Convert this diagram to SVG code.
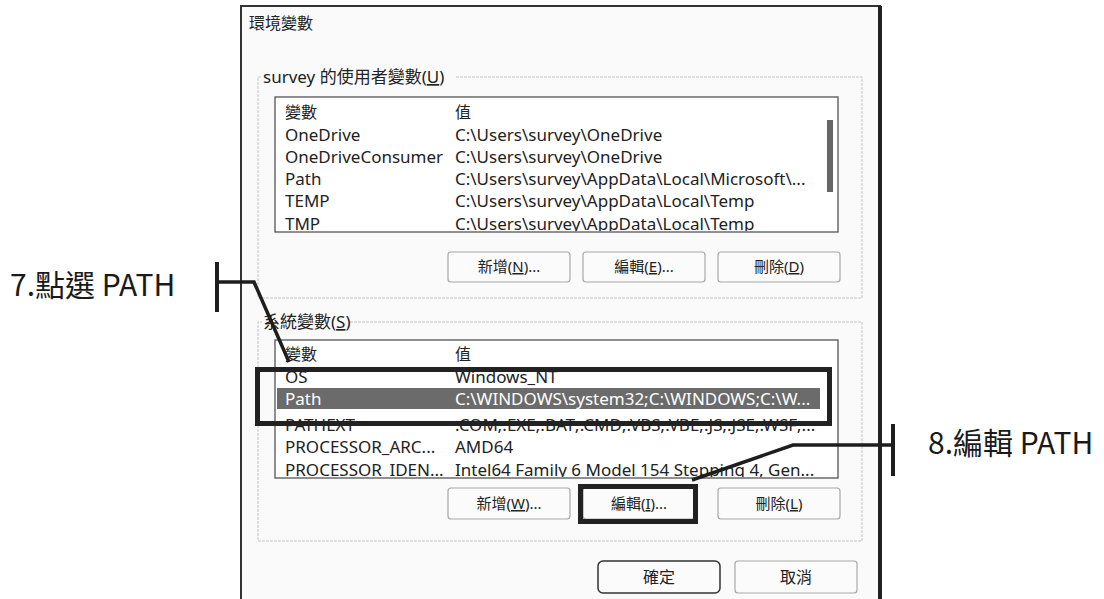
<svg xmlns="http://www.w3.org/2000/svg" width="1104" height="599" viewBox="0 0 1104 599">
<style>
.ui{font-family:"Noto Sans","Noto Sans CJK TC",sans-serif;font-size:17px;fill:#222}
.bt{font-family:"Noto Sans","Noto Sans CJK TC",sans-serif;font-size:15px;fill:#222}
.cjk{font-family:"Noto Sans CJK TC",sans-serif;font-size:16px;fill:#222}
.big{font-family:"Noto Sans CJK TC",sans-serif;font-size:30px;fill:#1a1a1a}
.u{text-decoration:underline}
.btn{fill:#fbfbfb;stroke:#a8a8a8;stroke-width:1.2}
.grp{fill:none;stroke:#c4c4c4;stroke-width:1;stroke-dasharray:3 1}
.list{fill:#fff;stroke:#555;stroke-width:1.3}
.call{fill:none;stroke:#1e1e1e;stroke-width:3.5;stroke-linejoin:miter}
.bar{stroke:#1e1e1e;stroke-width:4}
.hl{fill:none;stroke:#222;stroke-width:5}
.w{fill:#fff}
</style>
<defs>
<clipPath id="c1"><rect x="276" y="98" width="550" height="133"/></clipPath>
<clipPath id="c2"><rect x="276" y="341" width="550" height="136"/></clipPath>
</defs>
<rect width="1104" height="599" fill="#fff"/>

<g id="dialog">
<rect x="241" y="6" width="639" height="620" fill="#fafafa" stroke="#333" stroke-width="2"/>
<line x1="880" y1="6" x2="880" y2="599" stroke="#222" stroke-width="4"/>
<text class="cjk" x="249" y="29" style="font-size:16px">環境變數</text>
</g>

<g id="user-group">
<path class="grp" d="M456 77 H862 V298 H258 V77 H262"/>
<text class="ui" x="263" y="83">survey 的使用者變數(<tspan class="u">U</tspan>)</text>
<rect class="list" x="275" y="97" width="563" height="135"/>
<g clip-path="url(#c1)">
<text class="cjk" x="285" y="118">變數</text><text class="cjk" x="455" y="118">值</text>
<text class="ui" x="285" y="141">OneDrive</text><text class="ui" x="455" y="141">C:\Users\survey\OneDrive</text>
<text class="ui" x="285" y="163">OneDriveConsumer</text><text class="ui" x="455" y="163">C:\Users\survey\OneDrive</text>
<text class="ui" x="285" y="185">Path</text><text class="ui" x="455" y="185">C:\Users\survey\AppData\Local\Microsoft\...</text>
<text class="ui" x="285" y="207">TEMP</text><text class="ui" x="455" y="207">C:\Users\survey\AppData\Local\Temp</text>
<text class="ui" x="285" y="230">TMP</text><text class="ui" x="455" y="230">C:\Users\survey\AppData\Local\Temp</text>
</g>
<rect x="827" y="120" width="6" height="72" fill="#666"/>
</g>

<g id="user-buttons">
<rect class="btn" x="448" y="252" width="122" height="30" rx="3"/>
<text class="bt" x="509" y="272" text-anchor="middle">新增(<tspan class="u">N</tspan>)...</text>
<rect class="btn" x="583" y="252" width="122" height="30" rx="3"/>
<text class="bt" x="644" y="272" text-anchor="middle">編輯(<tspan class="u">E</tspan>)...</text>
<rect class="btn" x="718" y="252" width="122" height="30" rx="3"/>
<text class="bt" x="779" y="272" text-anchor="middle">刪除(<tspan class="u">D</tspan>)</text>
</g>

<g id="system-group">
<path class="grp" d="M350 322 H862 V541 H258 V322 H262"/>
<text class="ui" x="263" y="328">系統變數(<tspan class="u">S</tspan>)</text>
<rect class="list" x="275" y="340" width="563" height="138"/>
<g clip-path="url(#c2)">
<text class="cjk" x="285" y="360">變數</text><text class="cjk" x="455" y="360">值</text>
<text class="ui" x="285" y="383">OS</text><text class="ui" x="455" y="383">Windows_NT</text>
<rect x="277" y="388" width="543" height="21" fill="#6b6b6b"/>
<text class="ui w" x="285" y="405">Path</text><text class="ui w" x="455" y="405">C:\WINDOWS\system32;C:\WINDOWS;C:\W...</text>
<text class="ui" x="285" y="431">PATHEXT</text><text class="ui" x="455" y="431">.COM;.EXE;.BAT;.CMD;.VBS;.VBE;.JS;.JSE;.WSF;...</text>
<text class="ui" x="285" y="453">PROCESSOR_ARC...</text><text class="ui" x="455" y="453">AMD64</text>
<text class="ui" x="285" y="476">PROCESSOR_IDEN...</text><text class="ui" x="455" y="476">Intel64 Family 6 Model 154 Stepping 4, Gen...</text>
</g>
</g>

<g id="system-buttons">
<rect class="btn" x="448" y="488" width="122" height="31" rx="3"/>
<text class="bt" x="509" y="509" text-anchor="middle">新增(<tspan class="u">W</tspan>)...</text>
<rect class="btn" x="583" y="488" width="112" height="31" rx="3"/>
<text class="bt" x="639" y="509" text-anchor="middle">編輯(<tspan class="u">I</tspan>)...</text>
<rect class="btn" x="718" y="488" width="122" height="31" rx="3"/>
<text class="bt" x="779" y="509" text-anchor="middle">刪除(<tspan class="u">L</tspan>)</text>
</g>

<g id="ok-button">
<rect x="598" y="561" width="122" height="32" rx="5" fill="#fbfbfb" stroke="#333" stroke-width="1.5"/>
<text class="cjk" x="659" y="583" text-anchor="middle">確定</text>
</g>
<g id="cancel-button">
<rect class="btn" x="735" y="561" width="122" height="32" rx="3"/>
<text class="cjk" x="796" y="583" text-anchor="middle">取消</text>
</g>

<g id="highlights">
<rect class="hl" x="257.5" y="369.5" width="572" height="54"/>
<rect class="hl" x="580.5" y="486.5" width="115" height="35"/>
</g>

<g id="connectors">
<line class="bar" x1="217" y1="262" x2="217" y2="312"/>
<polyline class="call" points="217,282 254,282 289,362"/>
<line class="bar" x1="893" y1="424" x2="893" y2="476"/>
<polyline class="call" points="893,445 793,445 692,480"/>
</g>

<g id="label-7"><text class="big" x="10" y="296">7.點選 PATH</text></g>
<g id="label-8"><text class="big" x="928" y="454">8.編輯 PATH</text></g>
</svg>
